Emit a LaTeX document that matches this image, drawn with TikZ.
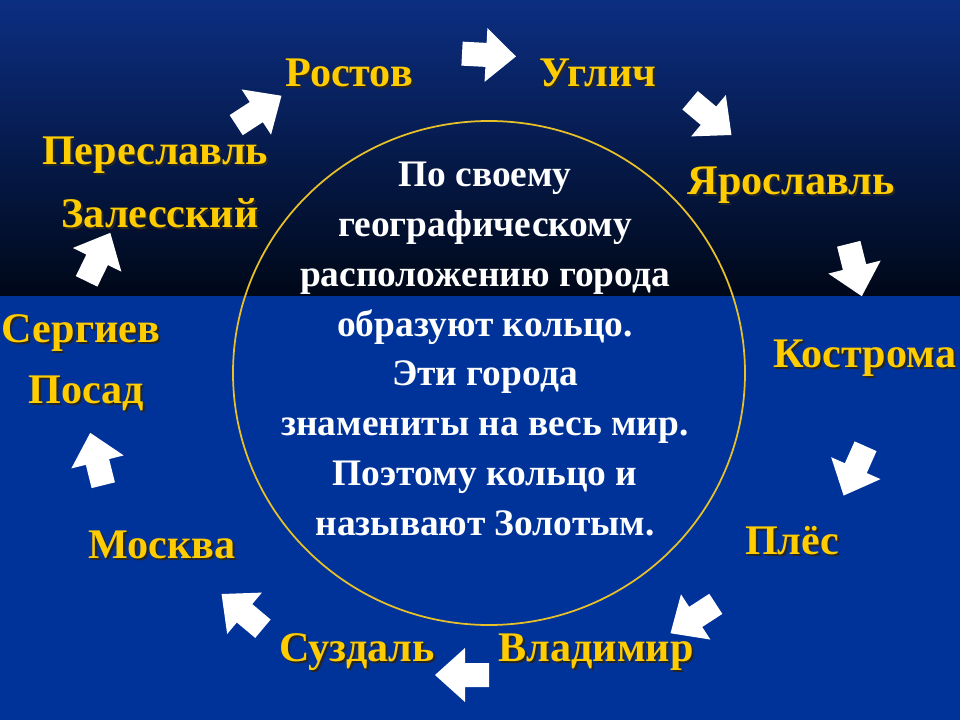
\documentclass[tikz,border=0pt]{standalone}
\usepackage{fontspec}
\setmainfont{Liberation Serif}
\definecolor{topblue}{RGB}{12,46,130}
\definecolor{topdark}{RGB}{0,8,24}
\definecolor{lowblue}{RGB}{0,51,153}
\definecolor{gold}{RGB}{255,204,0}
\definecolor{ringline}{RGB}{232,192,40}

\tikzset{
  blockarrow/.pic={
    \fill[white] (-26,-12) -- (-2,-12) -- (-2,-27) -- (28,0)
      -- (-2,27) -- (-2,12) -- (-26,12) -- cycle;
  }
}

\begin{document}
\begin{tikzpicture}[
  x=0.02cm, y=-0.02cm,
  city/.style={font=\fontsize{24}{28}\selectfont\bfseries, text=gold, inner sep=0pt},
  cityshadow/.style={font=\fontsize{24}{28}\selectfont\bfseries, text=black!85, inner sep=0pt},
  ringtext/.style={font=\fontsize{21.3}{28.3}\selectfont\bfseries, text=white,
    align=center, inner sep=0pt}
]
\useasboundingbox (0,0) rectangle (960,720);

% --- background ---
\shade[top color=topblue, bottom color=topdark] (0,0) rectangle (960,296);
\fill[lowblue] (0,296) rectangle (960,720);

% --- ring ---
\draw[ringline, line width=1pt] (489,373) ellipse [x radius=256, y radius=252];

\node[ringtext] (ring) at (485,349) {По своему\\
  географическому\\
  расположению города\\
  образуют кольцо.\\
  Эти города\\
  знамениты на весь мир.\\
  Поэтому кольцо и\\
  называют Золотым.};

% --- cities ---
\foreach \t/\x/\y [count=\i] in {Ростов/349/73, Углич/598/73, Ярославль/791/185,
    Плёс/792/541, Владимир/596/652, Суздаль/357/652, Москва/162/545,
    Сергиев/81/333, Посад/86/393, Переславль/155/155, Залесский/160/213} {
  \node[cityshadow] (city\i-s) at (\x+2,\y+2) {\t};
  \node[city] (city\i) at (\x,\y) {\t};
}
\node[cityshadow, anchor=west] (kostroma-s) at (775,360) {Кострома};
\node[city, anchor=west] (kostroma) at (773,358) {Кострома};

% --- arrows round the ring ---
\foreach \x/\y/\a [count=\i] in {488/55/-3, 710/117/-40, 855/269/-76,
    855/470/-114, 694/618/-147, 463/675/180, 243/612/140,
    97/460/104, 98/258/64, 258/111/33} {
  \pic[rotate=\a] (arrow\i) at (\x,\y) {blockarrow};
}
\end{tikzpicture}
\end{document}
